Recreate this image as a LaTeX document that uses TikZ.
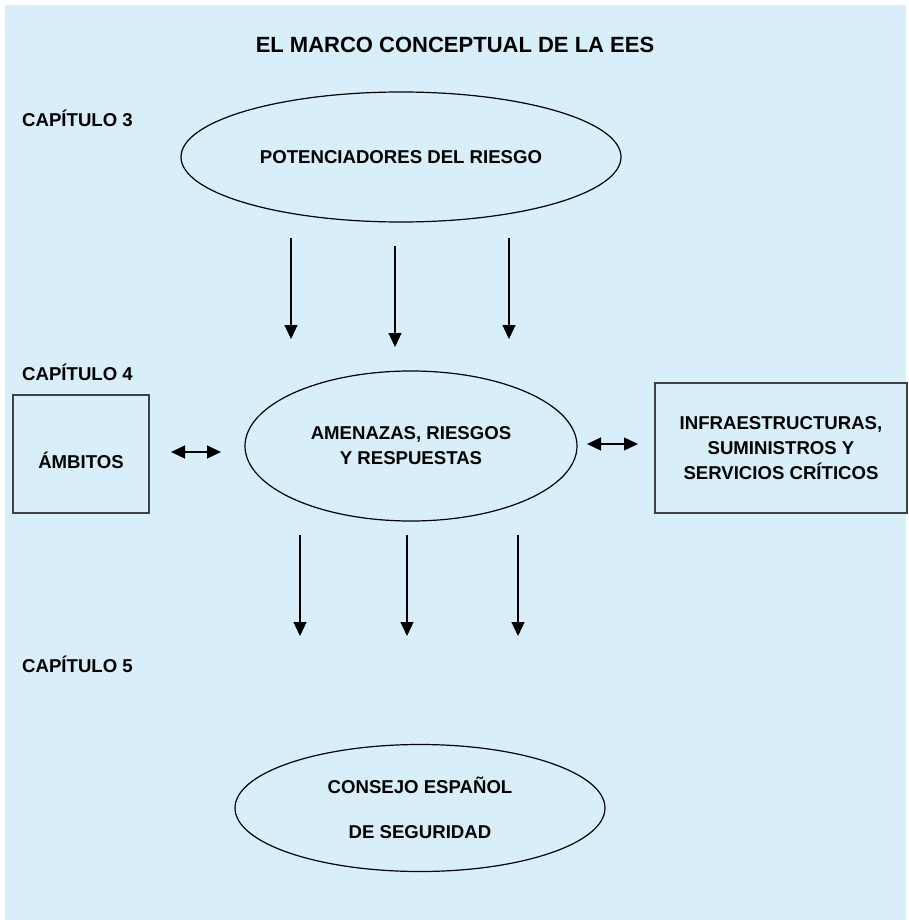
\documentclass[tikz,border=0pt]{standalone}
\usepackage{fontspec}
\setmainfont{Liberation Sans}
\usetikzlibrary{shapes.geometric,arrows.meta}
\definecolor{fondo}{RGB}{216,238,248}
\definecolor{borde}{RGB}{64,64,64}
\begin{document}
\begin{tikzpicture}
			[x=1pt,y=-1pt,
			 texto/.style={font=\fontsize{18.6}{25}\selectfont\bfseries,align=center},
			 ovalo/.style={ellipse,draw,line width=1.2pt,texto,inner sep=0pt},
			 caja/.style={rectangle,draw=borde,line width=1.5pt,texto,inner sep=0pt},
			 capitulo/.style={texto,anchor=west,inner sep=0pt},
			 >={Triangle[length=14pt,width=13pt]}]
			\useasboundingbox (0,0) rectangle (909,920);
			\fill[fondo] (5,5) rectangle (906,920);
			\node[texto,font=\fontsize{22}{26}\selectfont\bfseries,name=titulo] at (455,45) {EL MARCO CONCEPTUAL DE LA EES};
			\node[capitulo,name=cap3] at (22,118) {CAPÍTULO 3};
			\node[capitulo,name=cap4] at (22,372) {CAPÍTULO 4};
			\node[capitulo,name=cap5] at (22,664) {CAPÍTULO 5};
			\node[ovalo,name=pot,minimum width=440pt,minimum height=130pt] at (401,157) {POTENCIADORES DEL RIESGO};
			\node[ovalo,name=ame,minimum width=332pt,minimum height=150pt] at (411,446) {AMENAZAS, RIESGOS\\Y RESPUESTAS};
			\node[ovalo,name=cons,minimum width=370pt,minimum height=127pt] at (420,808) {CONSEJO ESPAÑOL\\[20pt]DE SEGURIDAD};
			\node[caja,name=amb,minimum width=136pt,minimum height=118pt] at (81,454) {\raisebox{-14pt}[0pt][0pt]{ÁMBITOS}};
			\node[caja,name=inf,minimum width=252pt,minimum height=130pt] at (781,448) {INFRAESTRUCTURAS,\\SUMINISTROS Y\\SERVICIOS CRÍTICOS};
			\foreach \n/\x/\a/\b in {a/291/238/339,b/395/246/347,c/509/238/339}{
				\coordinate (p\n) at (\x,\a);
				\coordinate (q\n) at (\x,\b);
				\draw[->,line width=1.2pt] (p\n) -- (q\n);
			}
			\foreach \n/\x in {a/300,b/407,c/518}{
				\coordinate (r\n) at (\x,535);
				\coordinate (s\n) at (\x,636);
				\draw[->,line width=1.2pt] (r\n) -- (s\n);
			}
			\coordinate (i1) at (171,452);
			\coordinate (i2) at (221,452);
			\coordinate (d1) at (587,444);
			\coordinate (d2) at (638,444);
			\draw[<->,line width=1.2pt] (i1) -- (i2);
			\draw[<->,line width=1.2pt] (d1) -- (d2);
		\end{tikzpicture}
\end{document}
